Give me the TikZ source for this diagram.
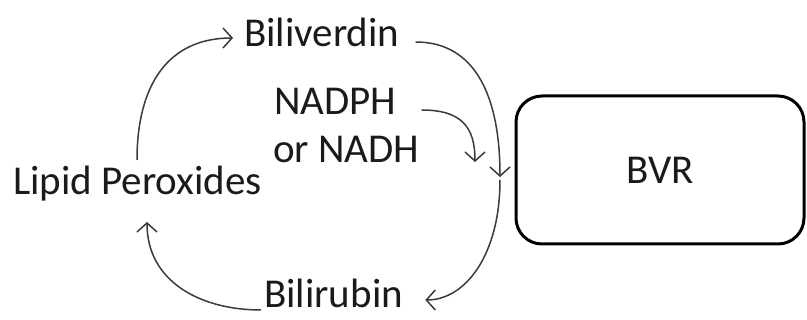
\documentclass[tikz,border=0pt]{standalone}
\usepackage{fontspec}
\setmainfont{Carlito}
\usetikzlibrary{arrows.meta}
\definecolor{linegray}{HTML}{3A3A3A}
\definecolor{txt}{HTML}{1A1A1A}
\begin{document}
\begin{tikzpicture}[x=1pt,y=-1pt,
  lbl/.style={inner sep=0pt, anchor=base west, font=\fontsize{41}{46}\selectfont, text=txt},
  conn/.style={draw=linegray, line width=1.5pt, -{Straight Barb[length=9pt,width=20pt,line width=1.5pt]}},
  procbox/.style={draw=black, line width=3pt, rounded corners=26pt, minimum width=288pt, minimum height=148pt, font=\fontsize{41}{46}\selectfont, text=txt}
]
\useasboundingbox (0,0) rectangle (807,320);

\node[lbl] (bv) at (244,47) {Biliverdin};
\node[lbl] (nadph) at (274,115) {NADPH};
\node[lbl] (nadh) at (273,163) {or NADH};
\node[lbl] (lp) at (13,195) {Lipid Peroxides};
\node[lbl] (br) at (264,308) {Bilirubin};
\node[procbox] (bvr) at (660,170) {BVR};

\coordinate (j) at (500,180);

% Lipid Peroxides -> Biliverdin
\draw[conn] ([xshift=124pt,yshift=35pt]lp.base west) .. controls +(0,-75) and +(-65,0) .. ([xshift=-11pt,yshift=9pt]bv.base west);
% Bilirubin -> Lipid Peroxides
\draw[conn] ([xshift=-3pt,yshift=-2pt]br.base west) .. controls +(-60,0) and +(0,60) .. ([xshift=134pt,yshift=-27pt]lp.base west);
% Biliverdin -> junction
\draw[conn] ([xshift=16pt,yshift=5pt]bv.base east) .. controls +(60,0) and +(0,-80) .. ([yshift=3pt]j);
% NADPH -> junction
\draw[conn] ([xshift=25pt,yshift=5pt]nadph.base east) .. controls +(40,0) and +(0,-35) .. (475,162);
% junction -> Bilirubin
\draw[conn] (j) .. controls +(0,75) and +(40,0) .. ([xshift=22pt,yshift=8pt]br.base east);
\end{tikzpicture}
\end{document}
